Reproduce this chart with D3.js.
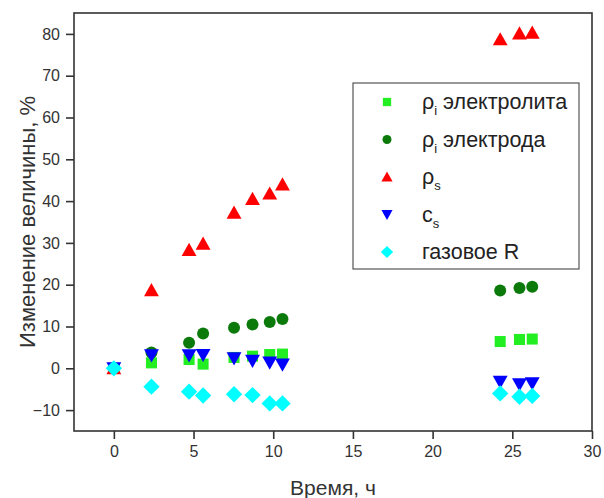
<!DOCTYPE html>
<html>
<head>
<meta charset="utf-8">
<script src="https://cdn.jsdelivr.net/npm/d3@7"></script>
<style>
  html, body { margin: 0; padding: 0; background: #fff; }
  svg { display: block; font-family: "Liberation Sans", Arial, sans-serif; }
</style>
</head>
<body>
<div id="chart"></div>
<script>
// time points, h
const times = [0, 2.36, 4.72, 5.6, 7.54, 8.7, 9.78, 10.58, 24.24, 25.45, 26.25];

// change of each quantity, %
const rhoElectrolyte = [0, 1.3, 2.1, 1.0, 2.6, 2.9, 3.3, 3.4, 6.4, 6.9, 7.0];
const rhoElectrode = [0, 3.8, 6.1, 8.3, 9.7, 10.5, 11.1, 11.8, 18.6, 19.2, 19.5];
const rhoS = [0, 18.7, 28.3, 29.8, 37.2, 40.5, 41.8, 44.0, 78.7, 80.1, 80.3];
const cS = [0, 3.1, 3.1, 3.2, 2.4, 1.8, 1.4, 0.9, -3.2, -3.8, -3.6];
const gasR = [0, -4.4, -5.6, -6.5, -6.2, -6.4, -8.4, -8.4, -6.0, -6.8, -6.6];

const xTicks = [0, 5, 10, 15, 20, 25, 30];
const yTicks = [-10, 0, 10, 20, 30, 40, 50, 60, 70, 80];

const series = [
  { name: "электролита", sub: "i", values: rhoElectrolyte, symbol: d3.symbolSquare, color: "#22ee22" },
  { name: "электрода", sub: "i", values: rhoElectrode, symbol: d3.symbolCircle, color: "#0b7a0b" },
  { name: "", sub: "s", values: rhoS, symbol: d3.symbolTriangle, color: "#ff0000" },
  { name: "c", sub: "s", values: cS, symbol: "down", color: "#0000ff" },
  { name: "газовое R", sub: null, values: gasR, symbol: "diamond", color: "#00ffff" }
];

const W = 604, H = 498;
const svg = d3.select("#chart").append("svg").attr("width", W).attr("height", H);

const x = d3.scaleLinear().domain([-2.5, 30]).range([74, 592]);
const y = d3.scaleLinear().domain([-15, 85]).range([431, 13]);

const axisColor = "#333";

// marker shapes
function markerPath(symbol, size) {
  if (symbol === "down") {
    const s = size;
    return `M${-s * 0.62},${-s * 0.5}L${s * 0.62},${-s * 0.5}L0,${s * 0.6}Z`;
  }
  if (symbol === "diamond") {
    const s = size * 0.68;
    return `M0,${-s}L${s},0L0,${s}L${-s},0Z`;
  }
  if (symbol === d3.symbolTriangle) {
    const s = size;
    return `M0,${-s * 0.6}L${s * 0.62},${s * 0.5}L${-s * 0.62},${s * 0.5}Z`;
  }
  if (symbol === d3.symbolSquare) {
    const s = size * 0.46;
    return `M${-s},${-s}H${s}V${s}H${-s}Z`;
  }
  return d3.symbol().type(symbol).size(Math.PI * (size * 0.5) * (size * 0.5))();
}

// frame
svg.append("rect")
  .attr("x", x(-2.5)).attr("y", y(85))
  .attr("width", x(30) - x(-2.5)).attr("height", y(-15) - y(85))
  .attr("fill", "none").attr("stroke", axisColor).attr("stroke-width", 1.6);

// x axis
const xAxis = svg.append("g").attr("transform", `translate(0,${y(-15)})`);
xAxis.call(d3.axisBottom(x).tickValues(d3.range(-2.5, 30.01, 2.5)).tickSize(4).tickFormat(""));
xAxis.call(d3.axisBottom(x).tickValues(xTicks).tickSize(8).tickPadding(7).tickFormat(d3.format("d")));
xAxis.selectAll(".domain").remove();
xAxis.selectAll("line").attr("stroke", axisColor).attr("stroke-width", 1.6);
xAxis.selectAll("text").attr("font-size", 16).attr("fill", axisColor).attr("font-family", "Liberation Sans, Arial, sans-serif");

// y axis
const yAxis = svg.append("g").attr("transform", `translate(${x(-2.5)},0)`);
yAxis.call(d3.axisLeft(y).tickValues(d3.range(-15, 85.01, 5)).tickSize(4).tickFormat(""));
yAxis.call(d3.axisLeft(y).tickValues(yTicks).tickSize(8).tickPadding(6).tickFormat(d3.format("d")));
yAxis.selectAll(".domain").remove();
yAxis.selectAll("line").attr("stroke", axisColor).attr("stroke-width", 1.6);
yAxis.selectAll("text").attr("font-size", 16).attr("fill", axisColor).attr("font-family", "Liberation Sans, Arial, sans-serif");

// axis titles
svg.append("text")
  .attr("x", (x(-2.5) + x(30)) / 2).attr("y", 495)
  .attr("text-anchor", "middle").attr("font-size", 21).attr("fill", axisColor)
  .text("Время, ч");

svg.append("text")
  .attr("transform", `translate(35,${(y(-15) + y(85)) / 2}) rotate(-90)`)
  .attr("text-anchor", "middle").attr("font-size", 22).attr("fill", axisColor)
  .text("Изменение величины, %");

// points
series.forEach((s) => {
  svg.append("g").selectAll("path")
    .data(times.map((t, i) => [t, s.values[i]]))
    .enter()
    .append("path")
    .attr("d", markerPath(s.symbol, 12))
    .attr("transform", (d) => `translate(${x(d[0])},${y(d[1])})`)
    .attr("fill", s.color);
});

// legend
const legend = svg.append("g");
legend.append("rect")
  .attr("x", 353).attr("y", 83).attr("width", 226).attr("height", 186)
  .attr("fill", "#fff").attr("stroke", "#555").attr("stroke-width", 1.2);

series.forEach((s, i) => {
  const ly = 102 + i * 37.5;
  legend.append("path")
    .attr("d", markerPath(s.symbol, 9))
    .attr("transform", `translate(387,${ly})`)
    .attr("fill", s.color);
  const txt = legend.append("text")
    .attr("x", 422).attr("y", ly + 7)
    .attr("font-size", 21.5).attr("fill", "#222");
  if (s.sub === null) {
    txt.text(s.name);
  } else {
    const first = s.name === "c" ? "c" : "ρ";
    txt.append("tspan").text(first);
    txt.append("tspan").attr("font-size", 13).attr("dy", 6).text(s.sub);
    if (s.name !== "c" && s.name !== "") {
      txt.append("tspan").attr("dy", -6).text(" " + s.name);
    }
  }
});
</script>
</body>
</html>
